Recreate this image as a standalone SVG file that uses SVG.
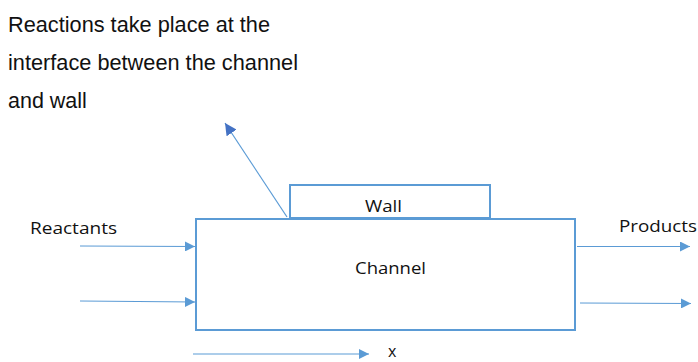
<svg xmlns="http://www.w3.org/2000/svg" width="698" height="362" viewBox="0 0 698 362">
<defs>
<marker id="ah" viewBox="0 0 10 10" refX="10" refY="5" markerWidth="10" markerHeight="10" markerUnits="userSpaceOnUse" orient="auto">
<path d="M0,0 L10,5 L0,10 Z" fill="#5b9bd5"/>
</marker>
<marker id="ah2" viewBox="0 0 10 10" refX="10" refY="5" markerWidth="12" markerHeight="12" markerUnits="userSpaceOnUse" orient="auto">
<path d="M0,0 L10,5 L0,10 Z" fill="#4472c4"/>
</marker>
<style>
.box{fill:#ffffff;stroke:#5b9bd5;stroke-width:2}
.ln{stroke:#5b9bd5;stroke-width:1.2;fill:none;marker-end:url(#ah)}
.lbl{font-family:"Open Sans","Liberation Sans",sans-serif;font-size:16px;fill:#111111}
.note{font-family:"Liberation Sans",Arial,sans-serif;font-size:21.5px;fill:#111111}
</style>
</defs>
<rect width="698" height="362" fill="#ffffff"/>
<g id="note">
<text class="note" x="8" y="32" textLength="262" lengthAdjust="spacingAndGlyphs">Reactions take place at the</text>
<text class="note" x="8" y="70" textLength="290" lengthAdjust="spacingAndGlyphs">interface between the channel</text>
<text class="note" x="8" y="108">and wall</text>
</g>
<g id="connectors">
<line class="ln" x1="287" y1="217" x2="225" y2="123" style="marker-end:url(#ah2)"/>
<line class="ln" x1="80" y1="246" x2="195" y2="246.5"/>
<line class="ln" x1="80" y1="301" x2="195" y2="302"/>
<line class="ln" x1="577" y1="246.5" x2="690" y2="246.5"/>
<line class="ln" x1="580" y1="303" x2="691" y2="303.5"/>
<line class="ln" x1="193" y1="354" x2="369" y2="354"/>
</g>
<g id="channel">
<rect class="box" x="196" y="219" width="379" height="111"/>
<text class="lbl" x="355" y="274" textLength="71" lengthAdjust="spacingAndGlyphs">Channel</text>
</g>
<g id="wall">
<rect class="box" x="290" y="185" width="200" height="33"/>
<text class="lbl" x="365" y="212" textLength="37" lengthAdjust="spacingAndGlyphs">Wall</text>
</g>
<g id="reactants">
<text class="lbl" x="30" y="234" textLength="87" lengthAdjust="spacingAndGlyphs">Reactants</text>
</g>
<g id="products">
<text class="lbl" x="619" y="232" textLength="78" lengthAdjust="spacingAndGlyphs">Products</text>
</g>
<g id="xlabel">
<text class="lbl" x="388" y="357">x</text>
</g>
</svg>
